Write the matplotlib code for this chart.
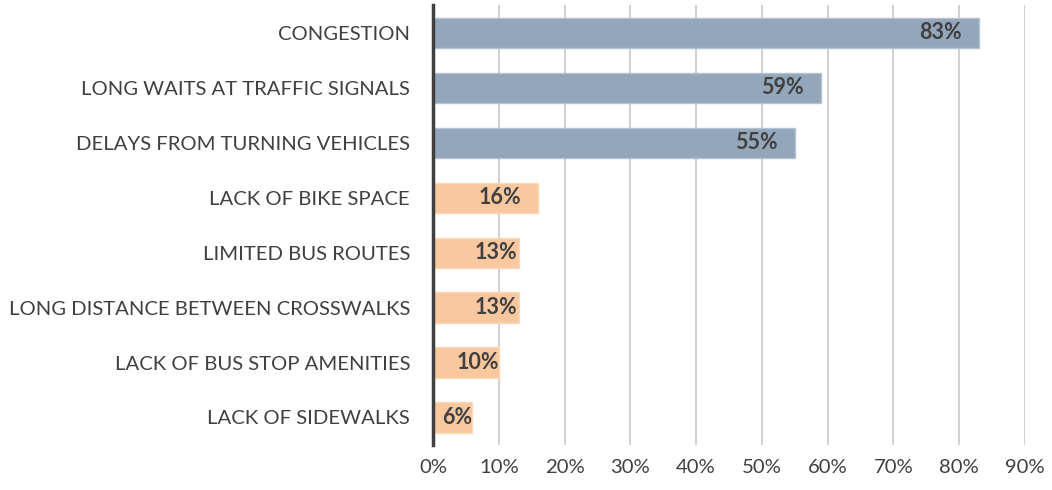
import numpy as np
import matplotlib.pyplot as plt
from matplotlib.ticker import PercentFormatter

# 数据
categories = ['CONGESTION', 'LONG WAITS AT TRAFFIC SIGNALS', 'DELAYS FROM TURNING VEHICLES',
              'LACK OF BIKE SPACE', 'LIMITED BUS ROUTES', 'LONG DISTANCE BETWEEN CROSSWALKS',
              'LACK OF BUS STOP AMENITIES', 'LACK OF SIDEWALKS']
values = [0.83, 0.59, 0.55, 0.16, 0.13, 0.13, 0.10, 0.06]
labels = ['83%', '59%', '55%', '16%', '13%', '13%', '10%', '6%']
groups = ['top', 'top', 'top', 'other', 'other', 'other', 'other', 'other']

plt.rcParams['font.family'] = ['Lato', 'DejaVu Sans']

colors = {'top': '#94a6ba', 'other': '#f9c89f'}
edges = {'top': '#b4c3d3', 'other': '#fbd8b8'}

fig = plt.figure(figsize=(10.52, 4.9), dpi=100)
ax = fig.add_axes([0.4116, 0.092, 0.5628, 0.897])

y = np.arange(len(categories))
ax.barh(y, values, height=0.55, color=[colors[g] for g in groups],
        edgecolor=[edges[g] for g in groups], linewidth=1, zorder=2)

ax.set_yticks(y)
ax.set_yticklabels(categories, fontsize=14.6, color='#404040')
ax.set_ylim(len(categories) - 0.5, -0.5)
ax.set_xlim(0, 0.9)
ax.set_xticks(np.arange(0, 0.91, 0.1))
ax.xaxis.set_major_formatter(PercentFormatter(1.0, decimals=0))
ax.tick_params(axis='x', labelsize=14.6, labelcolor='#404040', length=0, pad=10)
ax.tick_params(axis='y', length=0, pad=16.5)

ax.grid(axis='x', color='#c8c8c8', linewidth=1.2, zorder=1)
ax.set_axisbelow(True)
for s in ['top', 'right', 'bottom']:
    ax.spines[s].set_visible(False)
ax.spines['left'].set_color('#404040')
ax.spines['left'].set_linewidth(2.5)
ax.spines['left'].set_zorder(4)

# 数据标签：放在柱内靠末端，短柱时往右挪（但不超出柱端）
fig.canvas.draw()
renderer = fig.canvas.get_renderer()
x0_px = ax.transData.transform((0, 0))[0]
for yi, v, lab in zip(y, values, labels):
    t = ax.text(v, yi, lab, ha='right', va='center', fontsize=15.5, fontweight='bold',
                color='#404040', zorder=3)
    w = t.get_window_extent(renderer).width
    end_px = ax.transData.transform((v, 0))[0]
    right_px = max(end_px - 17, min(end_px, x0_px + w + 42))
    t.set_x(ax.transData.inverted().transform((right_px, 0))[0])

fig.savefig('out.png', dpi=100)
